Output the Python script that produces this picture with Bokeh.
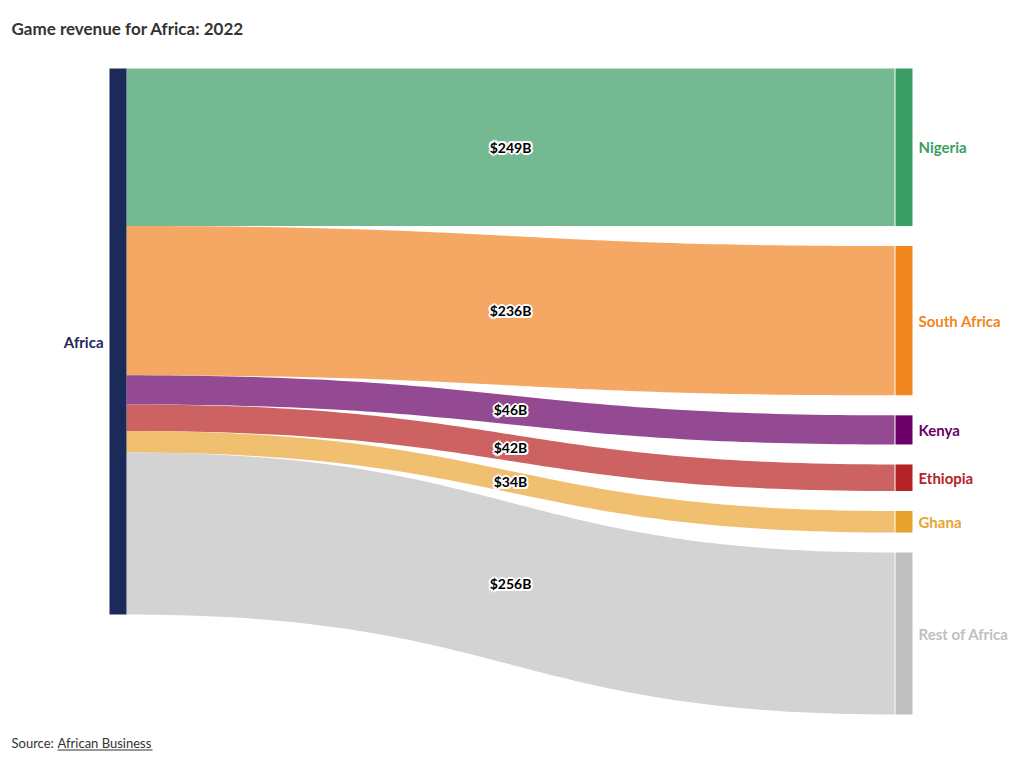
import numpy as np
from bokeh.plotting import figure
from bokeh.models import Range1d, Label, BoxAnnotation
from bokeh.core.properties import value
from bokeh.embed import file_html
from bokeh.resources import INLINE

# ---- data ----
source_node = "Africa"
targets = ["Nigeria", "South Africa", "Kenya", "Ethiopia", "Ghana", "Rest of Africa"]
revenue = [249, 236, 46, 42, 34, 256]  # $B
link_labels = ["$249B", "$236B", "$46B", "$42B", "$34B", "$256B"]
link_colors = ["#74b991", "#f5a863", "#944a93", "#cc6262", "#f0bf6f", "#d3d3d3"]
node_colors = ["#3a9d63", "#f28621", "#6b0068", "#b52227", "#e8a22f", "#c0c0c0"]
source_color = "#1c2a5a"

FONT = "Lato"
W, H = 1012, 753
total = sum(revenue)

# layout (figure pixel units for x; values for y)
top_px = 68.0
stack_px = 546.0
k = stack_px / total           # px per $B
gap = 20.0 / k                 # gap between right nodes, in $B
xL0, xL1 = 109.0, 126.0        # left node
xR0, xR1 = 895.0, 912.0        # right nodes
link_x0, link_x1 = xL1, xR0 - 1

p = figure(width=W, height=H, output_backend="svg", toolbar_location=None,
           x_range=Range1d(0, W), y_range=Range1d((H - top_px) / k, -top_px / k),
           min_border=0, min_border_left=0, min_border_right=0,
           min_border_top=0, min_border_bottom=0)
p.axis.visible = False
p.grid.visible = False
p.outline_line_color = None
p.background_fill_color = "white"
p.border_fill_color = "white"

# positions
left_tops = np.concatenate([[0], np.cumsum(revenue)[:-1]]).astype(float)
right_tops = np.array([left_tops[i] + i * gap for i in range(len(revenue))])
vals = np.array(revenue, dtype=float)

def bez(xa, ya, xb, yb, n=80):
    t = np.linspace(0, 1, n)
    xm = (xa + xb) / 2
    x = (1 - t) ** 3 * xa + 3 * (1 - t) ** 2 * t * xm + 3 * (1 - t) * t ** 2 * xm + t ** 3 * xb
    y = (1 - t) ** 3 * ya + 3 * (1 - t) ** 2 * t * ya + 3 * (1 - t) * t ** 2 * yb + t ** 3 * yb
    return x, y

xs, ys = [], []
for lt, rt, v in zip(left_tops, right_tops, vals):
    tx, ty = bez(link_x0, lt, link_x1, rt)
    bx, by = bez(link_x0, lt + v, link_x1, rt + v)
    xs.append(list(tx) + list(bx[::-1]))
    ys.append(list(ty) + list(by[::-1]))
p.patches(xs, ys, fill_color=link_colors, line_color=None)

# nodes
p.quad(left=[xL0], right=[xL1], top=[0], bottom=[total], fill_color=source_color, line_color=None)
p.quad(left=[xR0] * len(vals), right=[xR1] * len(vals), top=list(right_tops),
       bottom=list(right_tops + vals), fill_color=node_colors, line_color=None)

# node labels
p.text(x=[xL0 - 6], y=[total / 2], text=[source_node], text_align="right", text_baseline="middle",
       text_font=value(FONT), text_font_style="bold", text_font_size="15px", text_color=source_color)
p.text(x=[xR1 + 6] * len(vals), y=list(right_tops + vals / 2), text=targets, text_align="left",
       text_baseline="middle", text_font=value(FONT), text_font_style="bold", text_font_size="15px",
       text_color=node_colors)

# link labels with white halo
lx = (link_x0 + link_x1) / 2
ly = (left_tops + right_tops) / 2 + vals / 2
for dx, dy in [(-2, 0), (2, 0), (0, -2), (0, 2), (-1.5, -1.5), (1.5, 1.5), (-1.5, 1.5), (1.5, -1.5)]:
    p.text(x=[lx] * len(vals), y=list(ly), text=link_labels, x_offset=dx, y_offset=dy,
           text_align="center", text_baseline="middle", text_font=value(FONT),
           text_font_style="bold", text_font_size="14px", text_color="white")
p.text(x=[lx] * len(vals), y=list(ly), text=link_labels, text_align="center", text_baseline="middle",
       text_font=value(FONT), text_font_style="bold", text_font_size="14px", text_color="black")

# title and source
p.add_layout(Label(x=11, y=H - 28, x_units="screen", y_units="screen", text="Game revenue for Africa: 2022",
                   text_font=FONT, text_font_style="bold", text_font_size="17px", text_color="#333333",
                   text_baseline="middle"))
p.add_layout(Label(x=11, y=H - 742, x_units="screen", y_units="screen", text="Source:",
                   text_font=FONT, text_font_size="13px", text_color="#333333", text_baseline="middle"))
p.add_layout(Label(x=57, y=H - 742, x_units="screen", y_units="screen", text="African Business",
                   text_font=FONT, text_font_size="13px", text_color="#333333", text_baseline="middle"))
p.add_layout(BoxAnnotation(left=57, right=152, bottom=H - 750, top=H - 749, left_units="screen",
                           right_units="screen", top_units="screen", bottom_units="screen",
                           fill_color="#333333", fill_alpha=1, line_color=None))

open("out.html", "w").write(file_html(p, INLINE))
